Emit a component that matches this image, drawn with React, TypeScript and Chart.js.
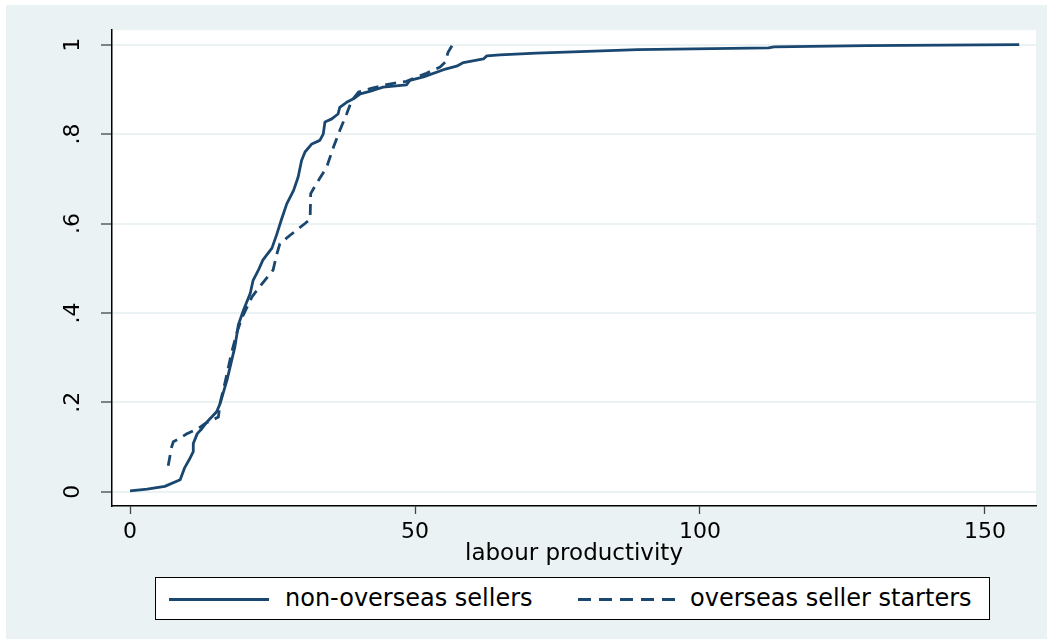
import React, { useEffect, useRef } from 'react';
import { Chart, registerables } from 'chart.js';

Chart.register(...registerables);

// ---------- data ----------
const seriesNames = ['non-overseas sellers', 'overseas seller starters'];

const nonOverseasX = [
  0, 3, 6.1, 8.8, 9.6, 10.4, 11.1, 11.1, 11.8, 12.6,
  13.5, 15.2, 15.8, 17.0, 18.4, 19.0, 19.9, 21.1, 21.6, 22.5,
  23.3, 24.9, 25.7, 26.6, 27.5, 28.7, 29.5, 30.1, 30.7, 31.9,
  33.3, 33.9, 34.2, 35.4, 36.5, 36.8, 38.0, 39.2, 40.4, 42.7,
  44.4, 48.5, 49.1, 51.5, 55.0, 57.3, 58.5, 62.0, 62.6, 64.9,
  71.3, 89.1, 112.0, 113.0, 129.2, 156.0,
];
const nonOverseasY = [
  0.002, 0.006, 0.012, 0.027, 0.054, 0.072, 0.09, 0.108, 0.13, 0.141,
  0.156, 0.179, 0.197, 0.249, 0.324, 0.373, 0.406, 0.444, 0.473, 0.495,
  0.518, 0.545, 0.574, 0.61, 0.644, 0.674, 0.704, 0.741, 0.76, 0.778,
  0.786, 0.8, 0.827, 0.834, 0.845, 0.86, 0.871, 0.879, 0.89, 0.898,
  0.905, 0.91, 0.92, 0.928, 0.944, 0.952, 0.96, 0.968, 0.975, 0.977,
  0.981, 0.989, 0.993, 0.995, 0.998, 1.0,
];

const starterX = [
  6.7, 7.3, 7.6, 8.5, 9.9, 12.0, 13.2, 15.5, 15.8, 16.7,
  17.8, 18.7, 19.6, 21.4, 23.4, 25.1, 25.7, 26.3, 28.4, 30.7,
  31.6, 31.7, 32.7, 34.5, 35.7, 36.8, 38.0, 38.9, 40.1, 42.5,
  45.5, 48.5, 52.0, 54.4, 55.3, 55.8, 56.6,
];
const starterY = [
  0.058, 0.1, 0.112, 0.118, 0.129, 0.142, 0.153, 0.167, 0.198, 0.246,
  0.31, 0.354, 0.388, 0.436, 0.469, 0.496, 0.529, 0.555, 0.577, 0.6,
  0.61, 0.667, 0.689, 0.726, 0.771, 0.808, 0.845, 0.875, 0.894, 0.903,
  0.912, 0.918, 0.936, 0.95, 0.961, 0.983, 1.0,
];

const xTickValues = [0, 50, 100, 150];
const xTickLabels = ['0', '50', '100', '150'];
const yTickValues = [0, 0.2, 0.4, 0.6, 0.8, 1];
const yTickLabels = ['0', '.2', '.4', '.6', '.8', '1'];
const xTitle = 'labour productivity';

// ---------- style ----------
const NAVY = '#1a476f';
const BG = '#eaf2f3';
const FONT = '"DejaVu Sans", "Liberation Sans", Arial, sans-serif';

const zip = (xs: number[], ys: number[]) => xs.map((x, i) => ({ x, y: ys[i] }));

const bgPlugin = {
  id: 'stataBackground',
  beforeDraw(chart: any) {
    const { ctx, width, height, chartArea } = chart;
    ctx.save();
    ctx.fillStyle = '#ffffff';
    ctx.fillRect(0, 0, width, height);
    ctx.fillStyle = BG;
    ctx.fillRect(6, 5, width - 12, height - 10);
    ctx.fillStyle = '#ffffff';
    ctx.fillRect(chartArea.left, chartArea.top, chartArea.right - chartArea.left, chartArea.bottom - chartArea.top);
    ctx.restore();
  },
};

export default function App() {
  const canvasRef = useRef<HTMLCanvasElement | null>(null);

  useEffect(() => {
    const canvas = canvasRef.current;
    if (!canvas) return;
    const chart = new Chart(canvas, {
      type: 'line',
      data: {
        datasets: [
          {
            label: seriesNames[0],
            data: zip(nonOverseasX, nonOverseasY),
            borderColor: NAVY,
            borderWidth: 2.8,
            pointRadius: 0,
            tension: 0,
            fill: false,
            borderJoinStyle: 'round',
          },
          {
            label: seriesNames[1],
            data: zip(starterX, starterY),
            borderColor: NAVY,
            borderWidth: 2.8,
            borderDash: [11, 7],
            pointRadius: 0,
            tension: 0,
            fill: false,
          },
        ],
      },
      options: {
        animation: false,
        responsive: false,
        devicePixelRatio: 1,
        parsing: true,
        layout: { padding: { top: 29, right: 17, left: 0, bottom: 76 } },
        plugins: {
          legend: { display: false },
          tooltip: { enabled: false },
        },
        scales: {
          x: {
            type: 'linear',
            min: -3.16,
            max: 158.95,
            afterBuildTicks: (scale: any) => {
              scale.ticks = xTickValues.map((v) => ({ value: v }));
            },
            afterFit: (scale: any) => {
              scale.height = 62;
            },
            ticks: {
              color: '#000',
              font: { family: FONT, size: 22 },
              padding: 5,
              maxRotation: 0,
              minRotation: 0,
              autoSkip: false,
              callback: (v: any) => {
                const i = xTickValues.indexOf(Number(v));
                return i >= 0 ? xTickLabels[i] : '';
              },
            },
            grid: {
              drawOnChartArea: false,
              drawTicks: true,
              tickLength: 8,
              tickColor: '#444',
              tickWidth: 1.3,
            },
            border: { display: true, color: '#000', width: 1.5 },
            title: {
              display: true,
              text: xTitle,
              color: '#000',
              font: { family: FONT, size: 23 },
              padding: { top: 0, bottom: 0 },
            },
          },
          y: {
            type: 'linear',
            min: -0.0319,
            max: 1.0324,
            afterBuildTicks: (scale: any) => {
              scale.ticks = yTickValues.map((v) => ({ value: v }));
            },
            afterFit: (scale: any) => {
              scale.width = 112;
            },
            ticks: {
              color: '#000',
              font: { family: FONT, size: 22 },
              padding: 17,
              minRotation: 90,
              maxRotation: 90,
              crossAlign: 'center',
              autoSkip: false,
              callback: (v: any) => {
                const i = yTickValues.findIndex((t) => Math.abs(t - Number(v)) < 1e-9);
                return i >= 0 ? yTickLabels[i] : '';
              },
            },
            grid: {
              color: BG,
              lineWidth: 2,
              drawTicks: true,
              tickLength: 11,
              tickColor: '#444',
              tickWidth: 1.3,
            },
            border: { display: true, color: '#000', width: 1.5 },
          },
        },
      },
      plugins: [bgPlugin],
    } as any);
    return () => chart.destroy();
  }, []);

  const textStyle: React.CSSProperties = {
    position: 'absolute',
    top: 0,
    height: 41,
    lineHeight: '41px',
    fontFamily: FONT,
    fontSize: 24,
    color: '#000',
    whiteSpace: 'nowrap',
  };

  return (
    <div style={{ position: 'absolute', left: 0, top: 0, width: 1053, height: 644 }}>
      <canvas ref={canvasRef} width={1053} height={644} style={{ display: 'block', width: 1053, height: 644 }} />
      <div
        style={{
          position: 'absolute',
          left: 155,
          top: 577,
          width: 833,
          height: 41,
          background: '#fff',
          border: '1px solid #000',
        }}
      >
        <svg style={{ position: 'absolute', left: 12, top: 0 }} width={102} height={41}>
          <line x1={1} y1={21.5} x2={101} y2={21.5} stroke={NAVY} strokeWidth={2.8} />
        </svg>
        <span style={{ ...textStyle, left: 129 }}>{seriesNames[0]}</span>
        <svg style={{ position: 'absolute', left: 421, top: 0 }} width={102} height={41}>
          <line x1={1} y1={21.5} x2={101} y2={21.5} stroke={NAVY} strokeWidth={2.8} strokeDasharray="13 8" />
        </svg>
        <span style={{ ...textStyle, left: 534 }}>{seriesNames[1]}</span>
      </div>
    </div>
  );
}
